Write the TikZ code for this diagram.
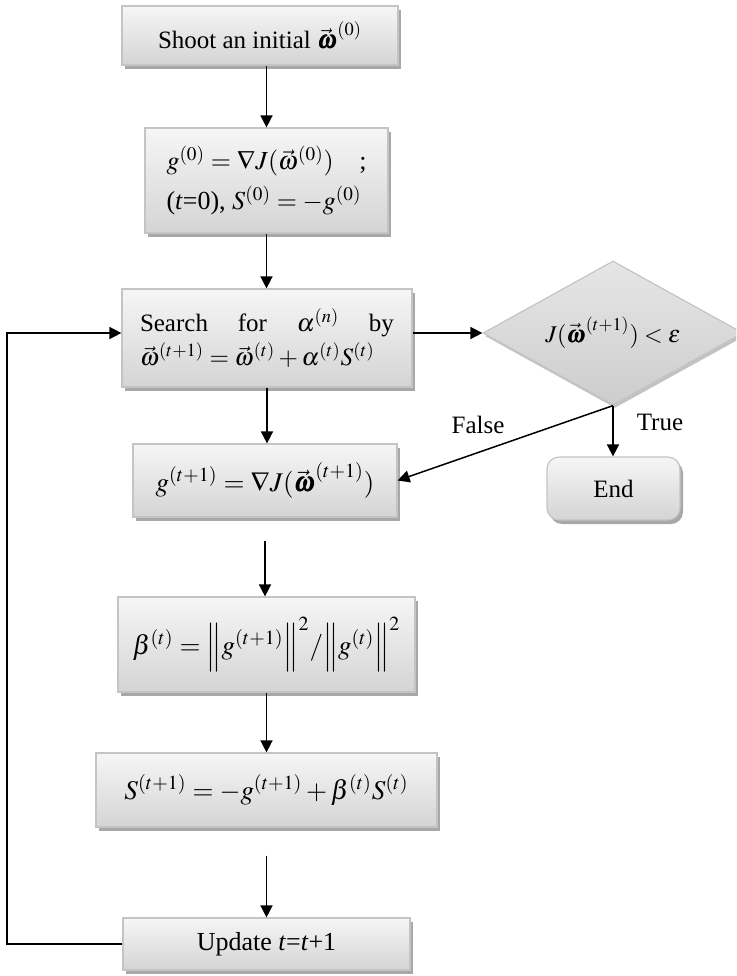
\documentclass[tikz,border=0pt]{standalone}
\usepackage{amsmath}
\usepackage{amssymb}
\usepackage{mathptmx}
\usepackage{bm}
\usepackage{fontspec}
\setmainfont{Liberation Serif}
\usepackage{tikz}
\usetikzlibrary{arrows.meta,calc,shapes.geometric,shadows}
\definecolor{boxEdge}{HTML}{C4C4C4}
\definecolor{boxTop}{HTML}{F6F6F6}
\definecolor{boxBottom}{HTML}{D4D4D4}
\definecolor{boxShade}{HTML}{A8A8A8}
\definecolor{diaTop}{HTML}{E6E6E6}
\definecolor{diaBottom}{HTML}{CDCDCD}

\begin{document}
\begin{tikzpicture}[x=0.5pt,y=-0.5pt,
  box/.style={draw=boxEdge,line width=0.6pt,top color=boxTop,bottom color=boxBottom,
    drop shadow={shadow xshift=1.5pt,shadow yshift=-2pt,fill=boxShade,opacity=1},
    inner sep=0pt,align=center,font=\fontsize{12.5}{15}\selectfont},
  dia/.style={diamond,aspect=1.8,draw=boxEdge,line width=0.6pt,top color=diaTop,bottom color=diaBottom,
    drop shadow={shadow xshift=1pt,shadow yshift=-1.5pt,fill=boxShade!70,opacity=1},
    inner sep=0pt,font=\fontsize{12}{14}\selectfont},
  eqn/.style={font=\fontsize{13.5}{16}\selectfont},
  arr/.style={-{Triangle[length=6pt,width=6pt]},line width=0.75pt},
  lbl/.style={font=\fontsize{12.5}{15}\selectfont}]
\clip (0,0) rectangle (736,976);
\node[box,minimum width=138pt,minimum height=29.5pt] (shoot) at (260,35.5)
  {Shoot an initial $\vec{\bm\omega}^{(0)}$};
\node[box,minimum width=121.5pt,minimum height=52.5pt,font=\fontsize{13}{20}\selectfont] (init) at (266.5,180.5)
  {\parbox{100pt}{\mbox{$g^{(0)}=\nabla J(\vec\omega^{(0)})$}\hfill;\\
   \mbox{(\textit{t}=0), $S^{(0)}=-g^{(0)}$}}};
\node[box,minimum width=145pt,minimum height=49pt,font=\fontsize{12.5}{17}\selectfont] (search) at (267,338)
  {\parbox{127pt}{Search\hfill for\hfill $\alpha^{(n)}$\hfill by\\
   \mbox{$\vec\omega^{(t+1)}=\vec\omega^{(t)}+\alpha^{(t)}S^{(t)}$}}};
\node[dia,minimum width=130pt,minimum height=72pt] (test) at (613,333)
  {\makebox[0pt]{$J(\vec{\bm\omega}^{(t+1)})<\varepsilon$}};
\node[box,rounded corners=6pt,minimum width=66.5pt,minimum height=31.5pt] (stop) at (613.5,488.5) {End};
\node[box,eqn,minimum width=132pt,minimum height=36.5pt] (grad) at (265,480.5)
  {$g^{(t+1)}=\nabla J(\vec{\bm\omega}^{(t+1)})$};
\node[box,eqn,minimum width=148.5pt,minimum height=47.5pt] (beta) at (266.5,644.5)
  {$\beta^{(t)}=\left\|g^{(t+1)}\right\|^{2}\!/\!\left\|g^{(t)}\right\|^{2}$};
\node[box,eqn,minimum width=170.5pt,minimum height=37pt] (dir) at (266.5,790)
  {$S^{(t+1)}=-g^{(t+1)}+\beta^{(t)}S^{(t)}$};
\node[box,minimum width=143.5pt,minimum height=26pt,font=\fontsize{13}{15}\selectfont] (upd) at (266.5,944)
  {Update \textit{t}=\textit{t}+1};
\node[lbl] (no) at (478,425) {False};
\node[lbl] (yes) at (660,422) {True};
\coordinate (back) at (7,333);

\draw[arr] (shoot.south -| init.north) -- (init.north);
\draw[arr] (init.south) -- (init.south |- search.north);
\draw[arr] (search.east |- test.west) -- (test.west);
\draw[arr] (search.south) -- (search.south |- grad.north);
\draw[arr] (test.south) -- (test.south |- stop.north);
\draw[arr] (test.south) -- (grad.east);
\draw[arr] ([yshift=-11.5pt]grad.south) -- (grad.south |- beta.north);
\draw[arr] (beta.south) -- (beta.south |- dir.north);
\draw[arr] ([yshift=-14pt]dir.south) -- (dir.south |- upd.north);
\draw[arr] (upd.west) -| (back) -- (back -| search.west);
\end{tikzpicture}
\end{document}
